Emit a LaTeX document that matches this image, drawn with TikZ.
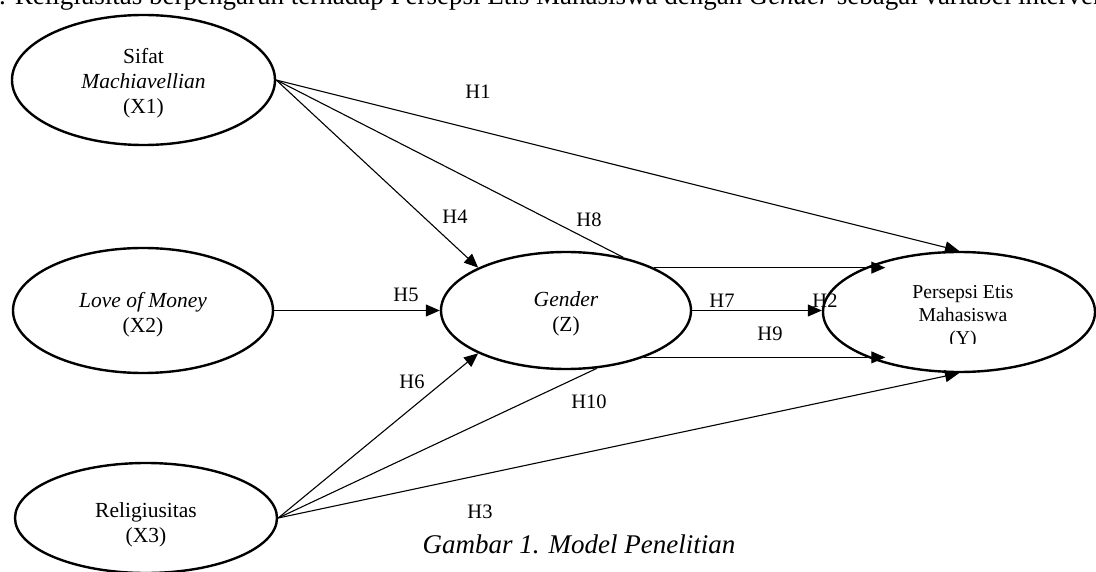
\documentclass[tikz,border=0pt]{standalone}
\usepackage{fontspec}
\setmainfont{Liberation Serif}
\usetikzlibrary{shapes.geometric,arrows.meta}

\begin{document}
\begin{tikzpicture}[x=1pt,y=-1pt,
    var/.style={draw,ellipse,line width=2.4pt,inner sep=0},
    vtext/.style={align=center,inner sep=0,font=\fontsize{21.5}{25}\selectfont},
    hyp/.style={inner sep=0,font=\fontsize{20.5}{24}\selectfont},
    link/.style={line width=1.1pt},
    arr/.style={link,-{Triangle[length=14pt,width=12pt]}}]
        \clip (0,0) rectangle (1096,572);
        \node[anchor=base west,inner sep=0,font=\fontsize{27}{30}\selectfont] (head) at (-1,5) {. Religiusitas berpengaruh terhadap Persepsi Etis Mahasiswa dengan \textit{Gender} sebagai variabel intervening};
        \node[var,minimum width=263pt,minimum height=130pt,label={[vtext,yshift=-3.5pt]center:{Sifat\\\textit{Machiavellian}\\(X1)}}] (X1) at (143.5,80) {};
        \node[var,minimum width=260pt,minimum height=125pt,label={[vtext,yshift=-4pt]center:{\textit{Love of Money}\\(X2)}}] (X2) at (143,310.5) {};
        \node[var,minimum width=262pt,minimum height=110pt,label={[vtext,yshift=-6.5pt]center:{Religiusitas\\(X3)}}] (X3) at (146,518) {};
        \node[var,minimum width=250pt,minimum height=117pt,label={[vtext,yshift=-3.5pt]center:{\textit{Gender}\\(Z)}}] (Z) at (566,310.5) {};
        \node[var,minimum width=272pt,minimum height=120pt] (Y) at (959,312) {};
        \begin{scope}
          \clip (880,270) rectangle (1050,344);
          \node[align=center,inner sep=0,font=\fontsize{19.7}{23}\selectfont] (Ytxt) at (963,317) {Persepsi Etis\\Mahasiswa\\(Y)};
        \end{scope}
        \draw[arr] (X1.east) -- (Y.north);
        \draw[arr] (X1.east) -- (Z.154);
        \draw[link] (X1.east) -- (Z.43);
        \draw[arr] (X2.east) -- (Z.west);
        \draw[arr] (Z.26) -- (Z.26 -| Y.145);
        \draw[arr] (Z.east) -- (Z.east -| Y.west);
        \draw[arr] (Z.-31) -- (Z.-31 -| Y.215);
        \draw[arr] (X3.east) -- (Z.206);
        \draw[link] (X3.east) -- (Z.-62);
        \draw[arr] (X3.east) -- (Y.south);
        \node[hyp] (h1) at (478,92) {H1};
        \node[hyp] (h4) at (455,217) {H4};
        \node[hyp] (h8) at (589,220) {H8};
        \node[hyp] (h5) at (406,295) {H5};
        \node[hyp] (h7) at (722,301) {H7};
        \node[hyp] (h2) at (825,301) {H2};
        \node[hyp] (h9) at (770,334) {H9};
        \node[hyp] (h6) at (412,382) {H6};
        \node[hyp] (h10) at (589,402) {H10};
        \node[hyp] (h3) at (480,512) {H3};
        \node[anchor=base,inner sep=0,font=\fontsize{27}{30}\selectfont\itshape] (cap) at (579,553) {Gambar 1. Model Penelitian};
\end{tikzpicture}
\end{document}
